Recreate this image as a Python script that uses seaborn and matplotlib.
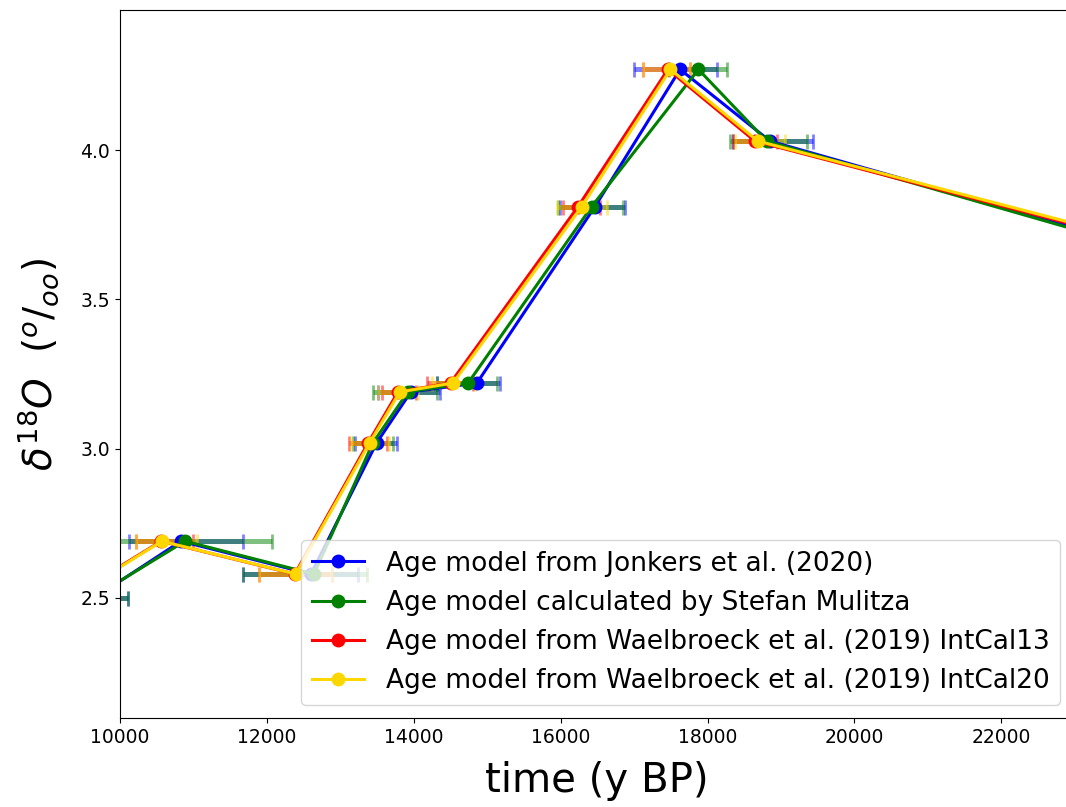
import numpy as np
import pandas as pd
import matplotlib
matplotlib.use("Agg")
import matplotlib.pyplot as plt
import seaborn as sns

# delta 18O values (shared by all age models)
d18o = [2.50, 2.69, 2.58, 3.02, 3.19, 3.22, 3.81, 4.27, 4.03, 3.60]

# ages (y BP) per age model
age_jonkers = [9650, 10830, 12600, 13495, 13960, 14860, 16465, 17625, 18850, 25000]
age_mulitza = [9620, 10885, 12640, 13445, 13920, 14740, 16420, 17875, 18805, 24900]
age_ic13 = [9300, 10560, 12380, 13380, 13785, 14500, 16235, 17460, 18645, 25300]
age_ic20 = [9320, 10570, 12390, 13400, 13810, 14535, 16285, 17495, 18685, 25400]

# age uncertainties (lower, upper)
err_lo_jonkers = [460, 710, 930, 300, 450, 540, 475, 625, 500, 500]
err_hi_jonkers = [460, 840, 640, 275, 400, 315, 410, 500, 585, 500]
err_lo_mulitza = [490, 1180, 970, 270, 475, 425, 450, 400, 500, 500]
err_hi_mulitza = [490, 1180, 720, 270, 395, 390, 430, 390, 545, 500]
err_lo_ic13 = [400, 340, 490, 260, 220, 320, 205, 345, 300, 500]
err_hi_ic13 = [400, 430, 500, 250, 250, 300, 300, 300, 295, 500]
err_lo_ic20 = [400, 350, 500, 250, 300, 285, 340, 380, 310, 500]
err_hi_ic20 = [400, 480, 500, 260, 250, 300, 340, 265, 370, 500]

labels = [
    "Age model from Jonkers et al. (2020)",
    "Age model calculated by Stefan Mulitza",
    "Age model from Waelbroeck et al. (2019) IntCal13",
    "Age model from Waelbroeck et al. (2019) IntCal20",
]
colors = ["blue", "green", "red", "gold"]
ages = [age_jonkers, age_mulitza, age_ic13, age_ic20]
errs_lo = [err_lo_jonkers, err_lo_mulitza, err_lo_ic13, err_lo_ic20]
errs_hi = [err_hi_jonkers, err_hi_mulitza, err_hi_ic13, err_hi_ic20]

plt.rcParams['font.family'] = ['DejaVu Sans']

fig = plt.figure(figsize=(10.66, 8.07), dpi=100)
ax = fig.add_axes([120 / 1066, 89 / 807, (1073 - 120) / 1066, 708 / 807])

for a, lo, hi, c in zip(ages, errs_lo, errs_hi, colors):
    ax.errorbar(a, d18o, xerr=[lo, hi], fmt='none', ecolor=c, alpha=0.5,
                elinewidth=3.6, capsize=5.4, capthick=2, zorder=1)

for a, c, lab in zip(ages, colors, labels):
    df = pd.DataFrame({"age": a, "d18o": d18o})
    sns.lineplot(data=df, x="age", y="d18o", sort=False, estimator=None,
                 color=c, lw=2.2, marker='o', markersize=10,
                 markeredgecolor=c, markeredgewidth=0, label=lab, ax=ax, zorder=2)

ax.set_xlim(10000, 22975)
ax.set_ylim(2.098, 4.469)
ax.set_xticks([10000, 12000, 14000, 16000, 18000, 20000, 22000])
ax.set_yticks([2.5, 3.0, 3.5, 4.0])
ax.tick_params(labelsize=13.5)
ax.set_xlabel("time (y BP)", fontsize=29, labelpad=10)
ax.set_ylabel(r"$\delta^{18}O\ \ (^o/_{oo})$", fontsize=28, labelpad=14)
ax.legend(loc='lower right', fontsize=19)

fig.savefig("out.png", dpi=100)
